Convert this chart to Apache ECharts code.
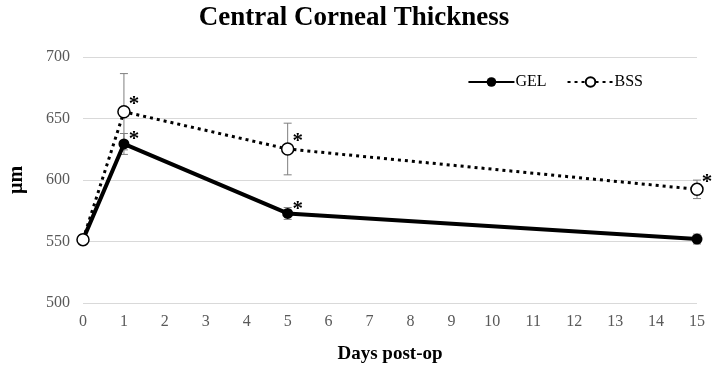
<!DOCTYPE html>
<html>
<head>
<meta charset="utf-8">
<title>Central Corneal Thickness</title>
<script src="https://cdn.jsdelivr.net/npm/echarts@6/dist/echarts.min.js"></script>
<style>
  html, body { margin: 0; padding: 0; background: #fff; }
  #chart { width: 715px; height: 369px; }
</style>
</head>
<body>
<div id="chart"></div>
<script>
// days after surgery
const days = [0, 1, 5, 15]
// mean thickness (µm)
const gelMean = [551.5, 629.3, 572.8, 552]
const bssMean = [551.5, 655.5, 625.2, 592.4]
// error bar half-widths (µm)
const gelErr = [4, 8.5, 4.8, 4]
const bssErr = [4, 31, 21, 7.5]
// significance markers
const gelSig = [false, true, true, false]
const bssSig = [false, true, true, true]
// axis ticks
const yTicks = [500, 550, 600, 650, 700]

const FONT = '"Liberation Serif", "DejaVu Serif", serif'

const chart = echarts.init(document.getElementById('chart'))

// 误差线
const errRender = function (params, api) {
  const x = api.value(0)
  const lo = api.coord([x, api.value(1)])
  const hi = api.coord([x, api.value(2)])
  const cap = 4
  const style = { stroke: '#7f7f7f', lineWidth: 1 }
  return {
    type: 'group',
    children: [
      { type: 'line', shape: { x1: lo[0], y1: lo[1], x2: hi[0], y2: hi[1] }, style },
      { type: 'line', shape: { x1: lo[0] - cap, y1: lo[1], x2: lo[0] + cap, y2: lo[1] }, style },
      { type: 'line', shape: { x1: hi[0] - cap, y1: hi[1], x2: hi[0] + cap, y2: hi[1] }, style }
    ]
  }
}

const errData = (mean, err) => days.map((d, i) => [d, mean[i] - err[i], mean[i] + err[i]])
const lineData = (mean, sig, dy) => days.map((d, i) => ({
  value: [d, mean[i]],
  label: { show: sig[i], offset: [10, dy] }
}))

const starLabel = {
  show: false,
  formatter: '*',
  position: 'inside',
  fontFamily: FONT,
  fontWeight: 'bold',
  fontSize: 21,
  color: '#000'
}

const option = {
  backgroundColor: '#fff',
  animation: false,
  title: {
    text: 'Central Corneal Thickness',
    left: 349,
    textAlign: 'center',
    top: 0,
    textStyle: { fontFamily: FONT, fontWeight: 'bold', fontSize: 27, color: '#000' }
  },
  legend: {
    right: 67,
    top: 69,
    itemWidth: 46,
    itemHeight: 12,
    itemGap: 20,
    textStyle: { fontFamily: FONT, fontSize: 16, color: '#000', padding: [0, 0, 0, -4] },
    data: ['GEL', 'BSS']
  },
  grid: { left: 83, right: 18, top: 57, bottom: 66, outerBoundsMode: 'none' },
  xAxis: {
    type: 'value',
    min: 0,
    max: 15,
    interval: 1,
    name: 'Days post-op',
    nameLocation: 'middle',
    nameGap: 42,
    nameTextStyle: { fontFamily: FONT, fontWeight: 'bold', fontSize: 19, color: '#000' },
    axisLine: { show: false },
    axisTick: { show: false },
    splitLine: { show: false },
    axisLabel: { fontFamily: FONT, fontSize: 16, color: '#595959', margin: 11 }
  },
  yAxis: {
    type: 'value',
    min: yTicks[0],
    max: yTicks[yTicks.length - 1],
    interval: 50,
    name: 'µm',
    nameLocation: 'middle',
    nameGap: 56,
    nameTextStyle: { fontFamily: FONT, fontWeight: 'bold', fontSize: 20, color: '#000' },
    axisLine: { show: false },
    axisTick: { show: false },
    axisLabel: { fontFamily: FONT, fontSize: 16, color: '#595959', margin: 13 },
    splitLine: { lineStyle: { color: '#d9d9d9', width: 1 } }
  },
  series: [
    {
      type: 'custom',
      name: 'bssErr',
      renderItem: errRender,
      data: errData(bssMean, bssErr),
      z: 1
    },
    {
      type: 'custom',
      name: 'gelErr',
      renderItem: errRender,
      data: errData(gelMean, gelErr),
      z: 1
    },
    {
      name: 'GEL',
      type: 'line',
      data: lineData(gelMean, gelSig, -4),
      symbol: 'circle',
      symbolSize: 11,
      itemStyle: { color: '#000' },
      lineStyle: { color: '#000', width: 4 },
      label: starLabel,
      z: 3
    },
    {
      name: 'BSS',
      type: 'line',
      data: lineData(bssMean, bssSig, -7),
      symbol: 'circle',
      symbolSize: 12,
      itemStyle: { color: '#fff', borderColor: '#000', borderWidth: 1.5 },
      lineStyle: { color: '#000', width: 3, type: [3, 4] },
      label: starLabel,
      z: 4
    }
  ]
}

chart.setOption(option)
</script>
</body>
</html>
